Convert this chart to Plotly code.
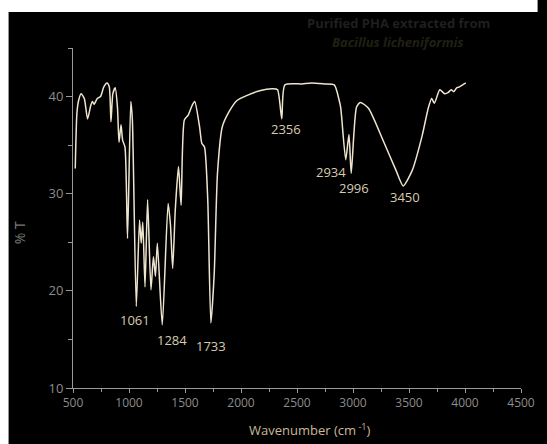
import plotly.graph_objects as go

# Spectrum (wavenumber cm^-1, %T)
wavenumber = [520, 535, 550, 572, 601, 630, 659, 674, 688, 717, 746, 775, 804, 824, 839, 856, 877, 897, 911, 929, 943, 964, 987,
              1016, 1030, 1065, 1094, 1109, 1123, 1143, 1166, 1196, 1218, 1236, 1253, 1297, 1349, 1370, 1390, 1413, 1442,
              1465, 1494, 1529, 1564, 1587, 1630, 1650, 1674, 1703, 1731, 1761, 1790, 1833, 1891, 1964, 2050, 2166, 2283,
              2326, 2364, 2392, 2544, 2630, 2746, 2833, 2877, 2891, 2935, 2964, 2984, 3031, 3065, 3138, 3268, 3384, 3448,
              3529, 3616, 3674, 3703, 3726, 3775, 3818, 3848, 3877, 3900, 3925, 3950, 4007]
transmittance = [32.6, 38.3, 39.6, 40.3, 39.8, 37.7, 39.1, 39.5, 39.2, 39.8, 40.0, 41.0, 41.4, 41.0, 37.4, 40.3, 40.9, 38.9, 35.3, 37.1, 35.5, 34.8, 25.4,
                 39.5, 37.6, 18.4, 27.3, 24.9, 27.1, 20.4, 29.4, 20.1, 23.5, 21.5, 24.9, 16.5, 29.0, 26.8, 22.3, 28.3, 32.8,
                 28.8, 37.6, 38.1, 39.1, 39.5, 36.9, 35.2, 34.8, 29.4, 16.7, 21.8, 32.1, 36.9, 38.4, 39.6, 40.1, 40.6, 40.8,
                 40.7, 37.7, 41.2, 41.3, 41.4, 41.3, 41.2, 39.6, 38.8, 33.5, 36.1, 32.1, 38.9, 39.4, 38.8, 35.5, 32.4, 30.8,
                 32.4, 35.9, 38.9, 39.8, 39.3, 40.7, 40.3, 40.4, 40.7, 40.5, 40.9, 41.0, 41.4]

peak_labels = ["1061", "1284", "1733", "2356", "2934", "2996", "3450"]
peak_text_x = [1051, 1381, 1729, 2398, 2807, 3007, 3468]
peak_text_y = [17.0, 14.96, 14.35, 36.65, 32.2, 30.6, 29.66]

W, H = 547, 444
L, R, T, B = 73, 15, 48, 56
pw, ph = W - L - R, H - T - B


def px_x(p):
    return (p - L) / pw


def px_y(p):
    return (H - B - p) / ph


fig = go.Figure()
fig.add_trace(go.Scatter(x=wavenumber, y=transmittance, mode="lines",
                         line=dict(color="#efe5cf", width=1.5, shape="spline", smoothing=0.6),
                         hoverinfo="skip", showlegend=False))

for lbl, tx, ty in zip(peak_labels, peak_text_x, peak_text_y):
    fig.add_annotation(x=tx, y=ty, text=lbl, showarrow=False, xref="x", yref="y",
                       xanchor="center", yanchor="middle",
                       font=dict(family="Open Sans", size=13, color="#d8cab0"))

header = [("<b>Purified PHA extracted from</b>", 23, "#1f1f1f"),
          ("<b><i>Bacillus licheniformis</i></b>", 42, "#202012")]
for txt, py, col in header:
    fig.add_annotation(x=px_x(406), y=px_y(py), xref="paper", yref="paper", text=txt,
                       xanchor="center", yanchor="middle", showarrow=False,
                       font=dict(family="Open Sans", size=13, color=col))

# axis titles placed where the picture has them
fig.add_annotation(x=px_x(316), y=px_y(429), xref="paper", yref="paper", text="Wavenumber (cm<sup> -1</sup>)",
                   xanchor="center", yanchor="middle", showarrow=False,
                   font=dict(family="Open Sans", size=13, color="#c9b99c"))
fig.add_annotation(x=px_x(18), y=px_y(233), xref="paper", yref="paper", text="% T", textangle=-90,
                   xanchor="center", yanchor="middle", showarrow=False,
                   font=dict(family="Open Sans", size=14, color="#7a7a7a"))

# white strips at the top and the left of the picture
fig.add_shape(type="rect", xref="paper", yref="paper",
              x0=px_x(-2), x1=px_x(W + 2), y0=px_y(12), y1=px_y(-2),
              fillcolor="white", line=dict(width=0), layer="below")
fig.add_shape(type="rect", xref="paper", yref="paper",
              x0=px_x(-2), x1=px_x(7), y0=px_y(H + 2), y1=px_y(-2),
              fillcolor="white", line=dict(width=0), layer="below")

axis_col = "#9a9a9a"
fig.update_layout(
    width=W, height=H,
    margin=dict(l=L, r=R, t=T, b=B),
    paper_bgcolor="black", plot_bgcolor="black",
    font=dict(family="Open Sans", color="#8c8c8c"),
    xaxis=dict(range=[500, 4500], tickvals=[500, 1000, 1500, 2000, 2500, 3000, 3500, 4000, 4500],
               ticks="outside", ticklen=4, tickcolor=axis_col, showline=True, linecolor=axis_col, linewidth=1,
               showgrid=False, zeroline=False,
               minor=dict(dtick=250, tick0=500, ticks="outside", ticklen=3, tickcolor=axis_col),
               tickfont=dict(size=12, color="#8c8c8c")),
    yaxis=dict(range=[10, 45], tickvals=[10, 20, 30, 40],
               ticks="outside", ticklen=6, tickcolor=axis_col, showline=True, linecolor=axis_col, linewidth=1,
               showgrid=False, zeroline=False,
               minor=dict(dtick=5, tick0=10, ticks="outside", ticklen=4, tickcolor=axis_col),
               tickfont=dict(size=13, color="#8c8c8c")),
)

fig.write_html("out.html")
